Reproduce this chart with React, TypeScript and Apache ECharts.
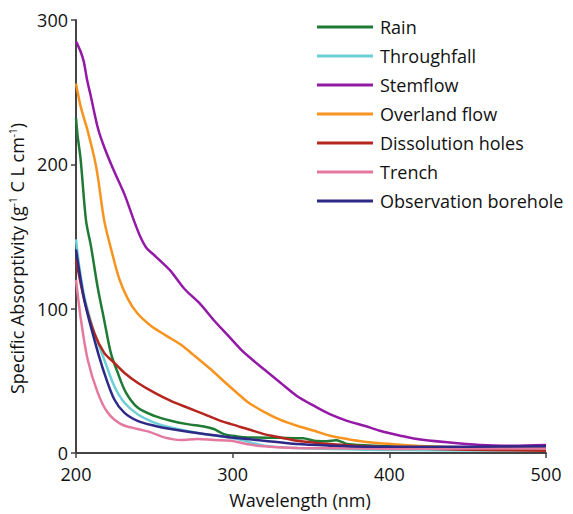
import React, { useEffect, useRef } from "react";
import * as echarts from "echarts";

const seriesNames = [
  "Rain",
  "Throughfall",
  "Stemflow",
  "Overland flow",
  "Dissolution holes",
  "Trench",
  "Observation borehole",
];

const rain = [[200,232],[201,220],[203,203],[206.4,161],[209.6,143],[213.8,115],[218,92],[222.3,69],[226.5,56],[231.8,42],[239.3,31.5],[250,25.7],[260.5,22.3],[271,20],[281.7,18.4],[288,16.6],[294.4,13.1],[303,11.5],[310,10.8],[330,10.5],[345,10.2],[352,8.5],[360,8.2],[366,8.8],[370,7.5],[373,6.2],[390,5],[420,4],[460,3.6],[480,3.4],[500,3.5]];
const throughfall = [[200,148],[202,130],[205.3,108.5],[211.7,83.2],[218,64.8],[224.4,46.4],[230.8,35],[239.3,26.9],[250,21.1],[260.5,17.7],[281.7,13.1],[303,9.7],[320,5.1],[341,3.4],[362,2.8],[384,2.3],[407,2],[450,1.8],[500,1.8]];
const stemflow = [[200,285],[201,283],[203,278],[205,271],[207,259],[209.5,247],[214,225],[218,212],[224,196],[231,179],[237,161],[241,150],[245,142],[250,137],[254,133],[260.5,126],[269,114],[279.5,103],[288,92],[296.5,82],[305,72],[310,67],[320,58],[330.5,48.7],[341,39.5],[352,32.6],[362,26.9],[373,22.3],[384,18.9],[394,15.4],[407,12],[415.5,10.1],[437,7.4],[458,5.5],[479,5],[500,5.5]];
const overland = [[200,256],[203,240],[207.5,223],[212,203],[214,191],[218,161],[222,143],[227.5,121],[233,107],[239,97],[248,88],[258,81],[267,75],[275,68],[286,58],[296.5,47.6],[305,39.5],[310,35],[320,28.5],[330.5,22.9],[341,18.9],[352,15.4],[362,12],[373,9.7],[384,7.8],[394,6.7],[407,5.8],[420,4.8],[450,3.8],[500,3.5]];
const dissolution = [[200,134],[205.3,106],[211.7,83],[218,69.4],[224.4,62.5],[230.8,55.6],[239.3,48.7],[250,41.8],[260.5,36.1],[271,31.5],[281.7,26.9],[292.3,22.3],[299,20],[305,18],[310,16.5],[320,13.1],[330.5,10.8],[341,8.5],[362,6.2],[384,4.6],[407,3.4],[450,2.2],[500,1.6]];
const trench = [[200,120],[203.2,92],[207.4,65],[213.8,42],[220.2,28],[228.7,20],[239.3,16.6],[247.8,14.3],[256.3,10.8],[267,9],[277.5,9.7],[288,9],[299,8.5],[309,6.2],[320,4.6],[341,3.4],[384,3.2],[407,2.8],[450,3.2],[500,3.2]];
const borehole = [[200,141],[205.3,106],[211.7,78.6],[218,55.6],[224.4,37.2],[230.8,28],[239.3,22.3],[250,18.9],[260.5,16.6],[281.7,13.1],[299,10.8],[320,8.5],[341,6.2],[362,5.1],[384,4.4],[407,4.4],[450,4.4],[500,4.6]];

const seriesData = [rain, throughfall, stemflow, overland, dissolution, trench, borehole];
const colors = ["#1e7a34", "#6dcfd6", "#9419a6", "#f7931e", "#b5261e", "#e5789f", "#2e2986"];

const FONT = "'Open Sans', sans-serif";

export default function App() {
  const ref = useRef<HTMLDivElement>(null);
  useEffect(() => {
    if (!ref.current) return;
    const chart = echarts.init(ref.current, null, { renderer: "svg" });
    chart.setOption({
      animation: false,
      textStyle: { fontFamily: FONT },
      grid: { left: 75, right: 27, top: 20, bottom: 60 },
      legend: {
        orient: "vertical",
        left: 312,
        top: 12,
        itemWidth: 56,
        itemHeight: 3,
        itemGap: 9,
        icon: "rect",
        data: seriesNames,
        textStyle: { fontFamily: FONT, fontSize: 18, color: "#111", lineHeight: 20, padding: [0, 0, 0, 2] },
      },
      xAxis: {
        type: "value",
        min: 200,
        max: 500,
        interval: 100,
        name: "Wavelength (nm)",
        nameLocation: "middle",
        nameGap: 38,
        nameTextStyle: { fontFamily: FONT, fontSize: 18, color: "#111", padding: [0, 22, 0, 0] },
        axisLine: { lineStyle: { color: "#444", width: 2 } },
        axisTick: { show: true, length: 5, lineStyle: { color: "#444", width: 1.5 } },
        axisLabel: { fontFamily: FONT, fontSize: 18, color: "#111", margin: 12 },
        splitLine: { show: false },
      },
      yAxis: {
        type: "value",
        min: 0,
        max: 300,
        interval: 100,
        name: "Specific Absorptivity (g{sup|-1} C L cm{sup|-1})",
        nameLocation: "middle",
        nameGap: 50,
        nameTextStyle: {
          fontFamily: FONT,
          fontSize: 18,
          color: "#111",
          padding: [0, 44, 0, 0],
          rich: {
            sup: { fontFamily: FONT, fontSize: 10, color: "#111", verticalAlign: "top", lineHeight: 10 },
          },
        },
        axisLine: { show: true, lineStyle: { color: "#444", width: 2 } },
        axisTick: { show: true, length: 5, lineStyle: { color: "#444", width: 1.5 } },
        axisLabel: { fontFamily: FONT, fontSize: 18, color: "#111", margin: 8 },
        splitLine: { show: false },
      },
      series: seriesNames.map((name, i) => ({
        name,
        type: "line",
        data: seriesData[i],
        showSymbol: false,
        smooth: 0.3,
        color: colors[i],
        lineStyle: { width: 2.5, color: colors[i] },
      })),
    });
    return () => chart.dispose();
  }, []);
  return <div ref={ref} style={{ width: 573, height: 514, position: "absolute", left: 0, top: 0 }} />;
}
